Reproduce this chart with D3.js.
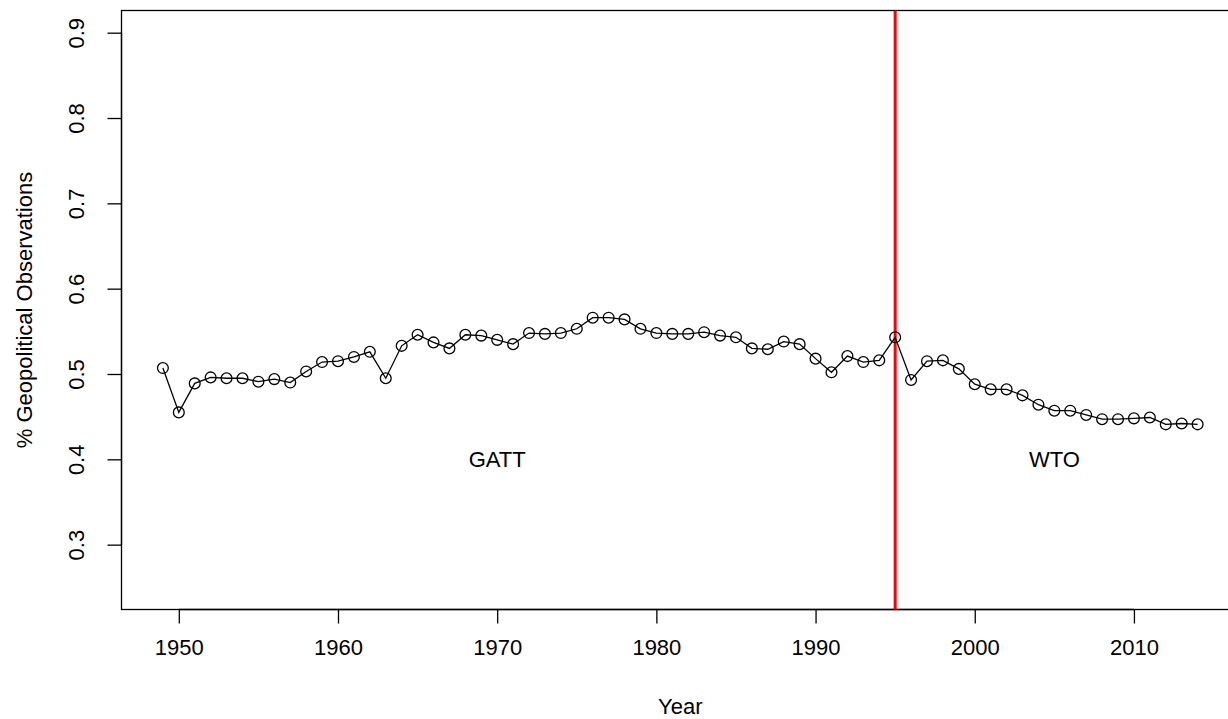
<!DOCTYPE html>
<html>
<head>
<meta charset="utf-8">
<script src="https://cdn.jsdelivr.net/npm/d3@7"></script>
<style>
  body { margin: 0; background: #fff; }
  svg text { font-family: "Liberation Sans", Arial, sans-serif; fill: #000; }
</style>
</head>
<body>
<svg id="chart" width="1228" height="719"></svg>
<script>
var years = d3.range(1949, 2015),
	share = [0.507, 0.455, 0.489, 0.496, 0.495, 0.495, 0.491, 0.494, 0.490, 0.503,
		0.514, 0.515, 0.520, 0.526, 0.495, 0.533, 0.546, 0.537, 0.530, 0.546,
		0.545, 0.540, 0.535, 0.548, 0.547, 0.548, 0.553, 0.566, 0.566, 0.564,
		0.553, 0.548, 0.547, 0.547, 0.549, 0.545, 0.543, 0.530, 0.529, 0.538,
		0.535, 0.518, 0.502, 0.521, 0.514, 0.516, 0.543, 0.493, 0.515, 0.516,
		0.506, 0.488, 0.482, 0.482, 0.475, 0.464, 0.457, 0.457, 0.452, 0.447,
		0.447, 0.448, 0.449, 0.441, 0.442, 0.441],
	xTicks = [1950, 1960, 1970, 1980, 1990, 2000, 2010],
	yTicks = [0.3, 0.4, 0.5, 0.6, 0.7, 0.8, 0.9],
	breakYear = 1995,
	eraLabels = [{ year: 1970, value: 0.4, text: "GATT" }, { year: 2005, value: 0.4, text: "WTO" }];

var plotL = 121.5, plotT = 10.5, plotB = 609.5, plotR = 1239,
	fontSize = 22,
	tickLen = 14;

var svg = d3.select("#chart");

// R style 4% padding around the data range
var x = d3.scaleLinear().domain([1946.4, 2016.6]).range([plotL, plotR]),
	y = d3.scaleLinear().domain([0.224, 0.926]).range([plotB, plotT]);

// plot box
svg.append("rect")
	.attr("x", plotL).attr("y", plotT)
	.attr("width", plotR - plotL).attr("height", plotB - plotT)
	.attr("fill", "none").attr("stroke", "#000").attr("stroke-width", 1.3);

// x axis
var xAxis = svg.append("g")
	.attr("transform", "translate(0," + plotB + ")")
	.call(d3.axisBottom(x).tickValues(xTicks).tickFormat(d3.format("d"))
		.tickSize(tickLen).tickPadding(16));
xAxis.select(".domain").attr("d", "M" + x(1950) + ",0H" + x(2010)).attr("stroke-width", 1.3);
xAxis.selectAll("line").attr("stroke-width", 1.3);
xAxis.selectAll("text").attr("font-size", fontSize).attr("font-family", "Liberation Sans, Arial, sans-serif");

// y axis, labels rotated like R's las=0
var yAxis = svg.append("g")
	.attr("transform", "translate(" + plotL + ",0)")
	.call(d3.axisLeft(y).tickValues(yTicks).tickFormat(d3.format(".1f")).tickSize(tickLen));
yAxis.select(".domain").attr("d", "M0," + y(0.3) + "V" + y(0.9)).attr("stroke-width", 1.3);
yAxis.selectAll("line").attr("stroke-width", 1.3);
yAxis.selectAll(".tick text")
	.attr("font-size", fontSize)
	.attr("font-family", "Liberation Sans, Arial, sans-serif")
	.attr("x", 0).attr("dy", null).attr("y", 0)
	.attr("text-anchor", "middle")
	.attr("transform", "translate(-38,0) rotate(-90)");

// axis titles
svg.append("text")
	.attr("x", x(1981.5))
	.attr("y", 714)
	.attr("text-anchor", "middle")
	.attr("font-size", fontSize)
	.text("Year");

svg.append("text")
	.attr("transform", "translate(32," + ((plotT + plotB) / 2) + ") rotate(-90)")
	.attr("text-anchor", "middle")
	.attr("font-size", fontSize)
	.text("% Geopolitical Observations");

// GATT / WTO boundary
svg.append("line")
	.attr("x1", x(breakYear)).attr("x2", x(breakYear))
	.attr("y1", plotT).attr("y2", plotB)
	.attr("stroke", "#ff0000").attr("stroke-width", 3);

svg.selectAll(".era")
	.data(eraLabels)
	.enter().append("text")
	.attr("class", "era")
	.attr("x", function(d){ return x(d.year); })
	.attr("y", function(d){ return y(d.value); })
	.attr("dy", "0.35em")
	.attr("text-anchor", "middle")
	.attr("font-size", fontSize)
	.text(function(d){ return d.text; });

// series, type = "o"
var pts = years.map(function(yr, i){ return [yr, share[i]]; });

svg.append("path")
	.datum(pts)
	.attr("fill", "none")
	.attr("stroke", "#000")
	.attr("stroke-width", 1.3)
	.attr("d", d3.line().x(function(d){ return x(d[0]); }).y(function(d){ return y(d[1]); }));

svg.selectAll(".pt")
	.data(pts)
	.enter().append("circle")
	.attr("class", "pt")
	.attr("cx", function(d){ return x(d[0]); })
	.attr("cy", function(d){ return y(d[1]); })
	.attr("r", 5.4)
	.attr("fill", "none")
	.attr("stroke", "#000")
	.attr("stroke-width", 1.3);
</script>
</body>
</html>
